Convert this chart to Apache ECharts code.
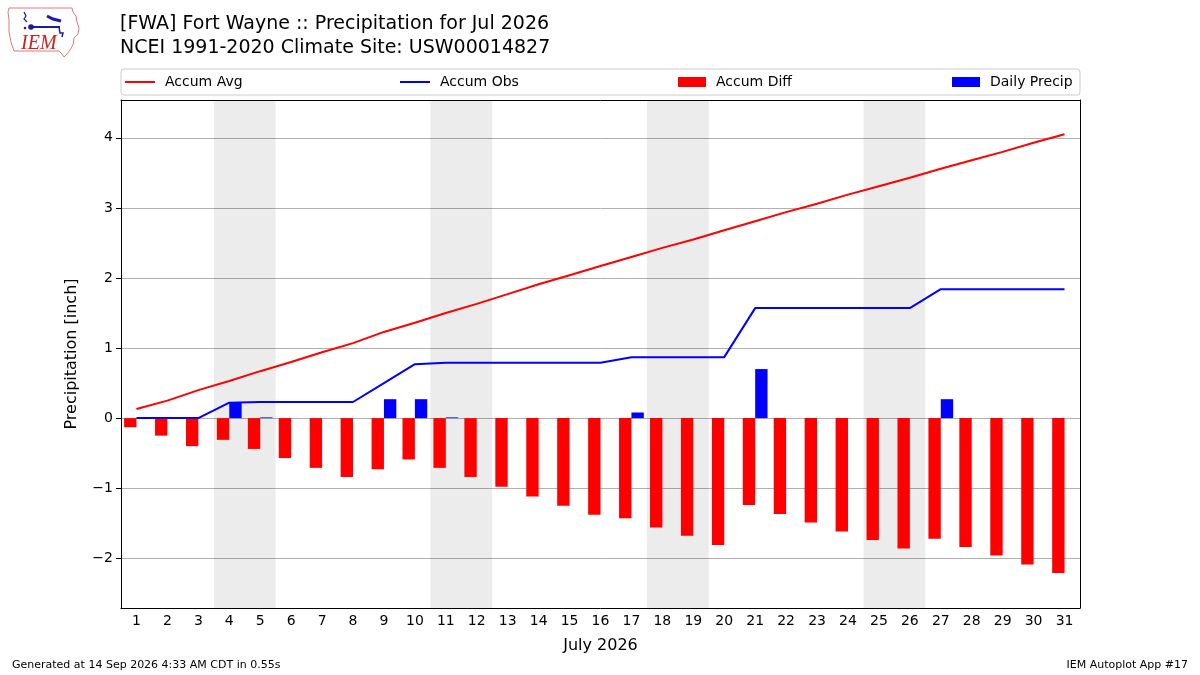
<!DOCTYPE html>
<html>
<head>
<meta charset="utf-8">
<script src="https://cdn.jsdelivr.net/npm/echarts@6/dist/echarts.min.js"></script>
<style>
  html, body { margin: 0; padding: 0; background: #fff; }
  #chart { width: 1200px; height: 675px; }
</style>
</head>
<body>
<div id="chart"></div>
<script>
var chart = echarts.init(document.getElementById("chart"));

// days of July 2026
var days = [];
for (var d = 1; d <= 31; d++) days.push(String(d));

// values (inch)
var accumAvg = [0.13, 0.25, 0.40, 0.53, 0.67, 0.80, 0.94, 1.07, 1.23, 1.36, 1.50, 1.63, 1.77, 1.91, 2.04, 2.17,
                2.30, 2.43, 2.55, 2.68, 2.81, 2.94, 3.06, 3.19, 3.31, 3.43, 3.56, 3.68, 3.80, 3.93, 4.05];
var accumObs = [0, 0, 0, 0.22, 0.23, 0.23, 0.23, 0.23, 0.50, 0.77, 0.79, 0.79, 0.79, 0.79, 0.79, 0.79,
                0.87, 0.87, 0.87, 0.87, 1.57, 1.57, 1.57, 1.57, 1.57, 1.57, 1.84, 1.84, 1.84, 1.84, 1.84];
var accumDiff = [-0.13, -0.25, -0.40, -0.31, -0.44, -0.57, -0.71, -0.84, -0.73, -0.59, -0.71, -0.84, -0.98, -1.12, -1.25, -1.38,
                 -1.43, -1.56, -1.68, -1.81, -1.24, -1.37, -1.49, -1.62, -1.74, -1.86, -1.72, -1.84, -1.96, -2.09, -2.21];
var dailyPrecip = [0, 0, 0, 0.22, 0.01, 0, 0, 0, 0.27, 0.27, 0.01, 0, 0, 0, 0, 0,
                   0.08, 0, 0, 0, 0.70, 0, 0, 0, 0, 0, 0.27, 0, 0, 0, 0];
// weekends (Sat-Sun)
var weekends = [[4, 5], [11, 12], [18, 19], [25, 26]];
var yTicks = [-2, -1, 0, 1, 2, 3, 4];

var FONT = "DejaVu Sans";
var yMin = -2.71, yMax = 4.54;

function minusFmt(v) {
    return String(v).replace("-", "\u2212");
}

var shadeData = weekends.map(function (w) {
    return [{ xAxis: w[0] - 0.5 }, { xAxis: w[1] + 0.5 }];
});

function legendAt(left, name, isLine) {
    return {
        data: [name],
        left: left,
        top: 70,
        icon: "rect",
        itemWidth: isLine ? 30 : 28,
        itemHeight: isLine ? 2 : 10,
        selectedMode: false,
        textStyle: { fontFamily: FONT, fontSize: 14, color: "#000", padding: [0, 0, 0, 5] }
    };
}

var option = {
    backgroundColor: "#fff",
    animation: false,
    textStyle: { fontFamily: FONT },
    title: [{
        text: "[FWA] Fort Wayne :: Precipitation for Jul 2026\nNCEI 1991-2020 Climate Site: USW00014827",
        left: 115,
        top: 7,
        textStyle: { fontFamily: FONT, fontSize: 19, fontWeight: "normal", color: "#000", lineHeight: 24 }
    }],
    legend: [
        legendAt(120, "Accum Avg", true),
        legendAt(395, "Accum Obs", true),
        legendAt(673, "Accum Diff", false),
        legendAt(947, "Daily Precip", false)
    ],
    grid: { left: 121, top: 100, width: 959, height: 508, containLabel: false },
    xAxis: [{
        type: "category",
        data: days,
        boundaryGap: true,
        name: "July 2026",
        nameLocation: "middle",
        nameGap: 30,
        nameTextStyle: { fontFamily: FONT, fontSize: 16, color: "#000" },
        axisLine: { onZero: false, lineStyle: { color: "#000", width: 1 } },
        axisTick: { alignWithLabel: true, interval: 0, length: 5, lineStyle: { color: "#000" } },
        axisLabel: { interval: 0, fontFamily: FONT, fontSize: 14, color: "#000", margin: 6 },
        splitLine: { show: false }
    }, {
        type: "value",
        position: "top",
        min: 0.5,
        max: 31.5,
        axisLine: { show: true, onZero: false, lineStyle: { color: "#000", width: 1 } },
        axisTick: { show: false },
        axisLabel: { show: false },
        splitLine: { show: false }
    }],
    yAxis: [{
        type: "value",
        min: yMin,
        max: yMax,
        name: "Precipitation [inch]",
        nameLocation: "middle",
        nameGap: 41,
        nameTextStyle: { fontFamily: FONT, fontSize: 16, color: "#000" },
        axisLine: { show: true, onZero: false, lineStyle: { color: "#000", width: 1 } },
        axisTick: { show: true, length: 5, customValues: yTicks, lineStyle: { color: "#000" } },
        axisLabel: { fontFamily: FONT, fontSize: 14, color: "#000", margin: 8, customValues: yTicks, formatter: minusFmt },
        splitLine: { show: true, lineStyle: { color: "#b0b0b0", width: 1 } }
    }, {
        type: "value",
        position: "right",
        min: yMin,
        max: yMax,
        axisLine: { show: true, onZero: false, lineStyle: { color: "#000", width: 1 } },
        axisTick: { show: false },
        axisLabel: { show: false },
        splitLine: { show: false }
    }],
    series: [{
        name: "weekend",
        type: "line",
        xAxisIndex: 1,
        yAxisIndex: 0,
        data: [],
        silent: true,
        markArea: {
            silent: true,
            itemStyle: { color: "rgba(0,0,0,0.075)" },
            data: shadeData
        }
    }, {
        name: "Accum Diff",
        type: "bar",
        data: accumDiff,
        barWidth: "40%",
        barGap: "0%",
        itemStyle: { color: "#ff0000" },
        z: 3
    }, {
        name: "Daily Precip",
        type: "bar",
        data: dailyPrecip,
        barWidth: "40%",
        barGap: "0%",
        itemStyle: { color: "#0000ff" },
        z: 3
    }, {
        name: "Accum Avg",
        type: "line",
        data: accumAvg,
        showSymbol: false,
        symbol: "none",
        lineStyle: { color: "#ff0000", width: 2 },
        itemStyle: { color: "#ff0000" },
        z: 4
    }, {
        name: "Accum Obs",
        type: "line",
        data: accumObs,
        showSymbol: false,
        symbol: "none",
        lineStyle: { color: "#0000ff", width: 2 },
        itemStyle: { color: "#0000ff" },
        z: 4
    }],
    graphic: [
        // legend frame
        {
            type: "rect",
            shape: { x: 121, y: 69, width: 959, height: 26, r: 3 },
            style: { fill: "rgba(255,255,255,0.8)", stroke: "#cccccc", lineWidth: 1 },
            z: -1
        },
        // IEM logo (rough)
        {
            type: "polyline",
            shape: { points: [[9, 8], [72, 8], [73, 12], [76, 16], [77, 22], [79, 28], [78, 34], [74, 38], [73, 45], [70, 50],
                              [67, 54], [64, 57], [62, 54], [59, 51], [14, 51], [11, 42], [9, 32], [9, 20], [8, 12], [9, 8]] },
            style: { stroke: "#e07a7a", fill: "#fff", lineWidth: 1 }
        },
        {
            type: "line",
            shape: { x1: 30, y1: 27, x2: 60, y2: 27 },
            style: { stroke: "#1a1ab0", lineWidth: 2 }
        },
        {
            type: "polyline",
            shape: { points: [[47, 16], [53, 19], [61, 21]] },
            style: { stroke: "#1a1ab0", lineWidth: 3 }
        },
        {
            type: "circle",
            shape: { cx: 31, cy: 27, r: 2.8 },
            style: { fill: "#1a1ab0" }
        },
        {
            type: "polyline",
            shape: { points: [[24, 12], [26, 16], [24, 19], [27, 22]] },
            style: { stroke: "#1a1ab0", lineWidth: 1.2, fill: null }
        },
        {
            type: "circle",
            shape: { cx: 25, cy: 28, r: 1.3 },
            style: { fill: "#1a1ab0" }
        },
        {
            type: "polyline",
            shape: { points: [[59, 27], [60, 33], [63, 33], [62, 37]] },
            style: { stroke: "#1a1ab0", lineWidth: 1.5, fill: null }
        },
        {
            type: "text",
            style: { x: 21, y: 34, text: "IEM", fill: "#d02020", font: "italic 20px 'Liberation Serif'" }
        },
        // footer
        {
            type: "text",
            style: { x: 12, y: 660, text: "Generated at 14 Sep 2026 4:33 AM CDT in 0.55s", fill: "#000", font: "11px 'DejaVu Sans'" }
        },
        {
            type: "text",
            style: { x: 1188, y: 660, text: "IEM Autoplot App #17", fill: "#000", font: "11px 'DejaVu Sans'", align: "right" }
        }
    ]
};

chart.setOption(option);
</script>
</body>
</html>
